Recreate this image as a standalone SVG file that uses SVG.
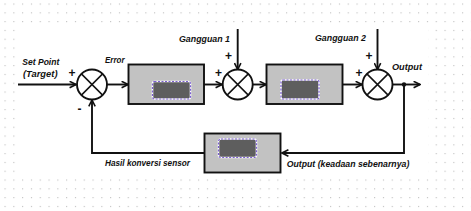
<svg xmlns="http://www.w3.org/2000/svg" width="471" height="211" viewBox="0 0 471 211">
<defs>
<pattern id="dots" x="4.5" y="3.5" width="8.8" height="8.8" patternUnits="userSpaceOnUse">
<rect x="0" y="0" width="1.1" height="1.1" fill="#bdbdbd"/>
</pattern>
<marker id="arr" viewBox="0 0 10 10" refX="9" refY="5" markerWidth="8" markerHeight="8" markerUnits="userSpaceOnUse" orient="auto">
<path d="M1,1 L9,5 L1,9" fill="none" stroke="#111" stroke-width="2"/>
</marker>
</defs>
<style>
.ln{stroke:#111;stroke-width:1.9;fill:none}
.x{stroke:#111;stroke-width:1.5;fill:none}
.box{fill:#c2c2c2;stroke:#111;stroke-width:1.9}
.inw{fill:#5e5e5e;stroke:#fff;stroke-width:1.6}
.inp{fill:none;stroke:#7b5fd0;stroke-width:1.2;stroke-dasharray:2 1.5}
.sum{fill:#fff;stroke:#111;stroke-width:1.9}
.t{font-family:"Liberation Sans",Arial,sans-serif;font-weight:bold;font-style:italic;font-size:8.6px;fill:#111}
.pm{font-family:"Liberation Sans",Arial,sans-serif;font-weight:bold;font-size:12px;fill:#111}
</style>
<rect width="471" height="211" fill="#fff"/>
<rect width="471" height="211" fill="url(#dots)"/>
<rect x="17" y="26" width="411" height="153" fill="#fff"/>

<g id="connectors">
<line class="ln" x1="18" y1="84.5" x2="76" y2="84.5" marker-end="url(#arr)"/>
<line class="ln" x1="107" y1="84.5" x2="128" y2="84.5" marker-end="url(#arr)"/>
<line class="ln" x1="204" y1="84.5" x2="222" y2="84.5" marker-end="url(#arr)"/>
<line class="ln" x1="253" y1="84.5" x2="266" y2="84.5" marker-end="url(#arr)"/>
<line class="ln" x1="343" y1="84.5" x2="362" y2="84.5" marker-end="url(#arr)"/>
<line class="ln" x1="393" y1="84.5" x2="420" y2="84.5" marker-end="url(#arr)"/>
<line class="ln" x1="237.7" y1="29" x2="237.7" y2="69.5" marker-end="url(#arr)"/>
<line class="ln" x1="377.5" y1="29" x2="377.5" y2="69.5" marker-end="url(#arr)"/>
<polyline class="ln" points="404,84.5 404,153 282,153" marker-end="url(#arr)"/>
<polyline class="ln" points="204,153 92,153 92,100" marker-end="url(#arr)"/>
<circle cx="404" cy="84.5" r="2.2" fill="#111"/>
</g>

<g id="sum1">
<circle class="sum" cx="92" cy="84.5" r="15"/>
<path class="x" d="M81.4,73.9 L102.6,95.1 M102.6,73.9 L81.4,95.1"/>
<text class="pm" x="68.5" y="77">+</text>
<text class="pm" x="77.5" y="112.5">-</text>
</g>
<g id="sum2">
<circle class="sum" cx="237.7" cy="84.5" r="15"/>
<path class="x" d="M227.1,73.9 L248.3,95.1 M248.3,73.9 L227.1,95.1"/>
<text class="pm" x="225" y="60">+</text>
<text class="pm" x="215" y="77">+</text>
</g>
<g id="sum3">
<circle class="sum" cx="377.5" cy="84.5" r="15"/>
<path class="x" d="M366.9,73.9 L388.1,95.1 M388.1,73.9 L366.9,95.1"/>
<text class="pm" x="365.5" y="60">+</text>
<text class="pm" x="355.5" y="76.5">+</text>
</g>

<g id="block1">
<rect class="box" x="128.5" y="64.5" width="75.5" height="39.5"/>
<rect class="inw" x="152.5" y="81.5" width="38" height="17.5" rx="2"/>
<rect class="inp" x="152.5" y="81.5" width="38" height="17.5" rx="2"/>
</g>
<g id="block2">
<rect class="box" x="266.5" y="64.5" width="76" height="39.5"/>
<rect class="inw" x="281" y="80" width="38" height="19" rx="2"/>
<rect class="inp" x="281" y="80" width="38" height="19" rx="2"/>
</g>
<g id="block3">
<rect class="box" x="204.5" y="133.5" width="76" height="39"/>
<rect class="inw" x="218.5" y="139" width="38" height="18.5" rx="2.5"/>
<rect class="inp" x="218.5" y="139" width="38" height="18.5" rx="2.5"/>
</g>

<g id="labels">
<text class="t" x="22.3" y="65" textLength="37" lengthAdjust="spacingAndGlyphs">Set Point</text>
<text class="t" x="23" y="76.5" textLength="34.5" lengthAdjust="spacingAndGlyphs">(Target)</text>
<text class="t" x="105" y="62.5" textLength="19.5" lengthAdjust="spacingAndGlyphs">Error</text>
<text class="t" x="179" y="42" textLength="51" lengthAdjust="spacingAndGlyphs">Gangguan 1</text>
<text class="t" x="315" y="41" textLength="51" lengthAdjust="spacingAndGlyphs">Gangguan 2</text>
<text class="t" x="392" y="70" textLength="30" lengthAdjust="spacingAndGlyphs">Output</text>
<text class="t" x="105" y="165.5" textLength="85" lengthAdjust="spacingAndGlyphs">Hasil konversi sensor</text>
<text class="t" x="286.7" y="166.5" textLength="122.6" lengthAdjust="spacingAndGlyphs">Output (keadaan sebenarnya)</text>
</g>
</svg>
